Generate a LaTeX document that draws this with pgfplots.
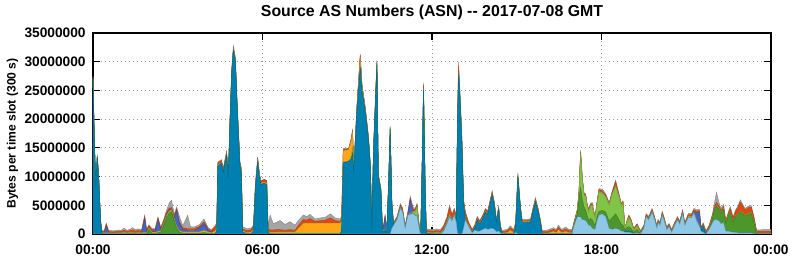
\documentclass[border=0pt]{standalone}
\usepackage{pgfplots}
\pgfplotsset{compat=1.18}
\usepackage{pgfplotstable}
\usepackage{fontspec}
\setmainfont{Liberation Sans}
\definecolor{clb}{RGB}{142,200,230}
\definecolor{cte}{RGB}{0,128,176}
\definecolor{cdg}{RGB}{76,150,44}
\definecolor{clg}{RGB}{128,196,72}
\definecolor{cor}{RGB}{255,166,20}
\definecolor{crb}{RGB}{66,102,196}
\definecolor{crd}{RGB}{224,72,14}
\definecolor{cgy}{RGB}{165,165,165}
\pgfplotstableread{
t lb te dg lg or rb rd gy
0.00 0 27.0 0 0 0 0 0.3 0.2
0.05 0 16.0 0 0 0 0 0.2 0.2
0.10 0 8.0 0 0 0 0 0.2 0.2
0.15 0 13.4 0 0 0 0 0.2 0.2
0.20 0 10.0 0 0 0 0 0.2 0.2
0.27 0 2.0 0 0 0 0 0.2 0.2
0.32 0 0 0 0.05 0.15 0 0.25 0.2
0.40 0 0 0 0.05 0.15 0 0.25 0.2
0.47 0 0 0 0.05 0.15 1.2 0.25 0.25
0.55 0 0 0 0.05 0.15 0 0.25 0.2
0.70 0 0 0 0.05 0.1 0 0.2 0.2
0.90 0 0 0 0.05 0.15 0 0.25 0.25
1.00 0 0 0 0.05 0.15 0 0.25 0.2
1.10 0 0 0 0.05 0.2 0 0.4 0.35
1.20 0 0 0 0.05 0.15 0 0.25 0.2
1.30 0 0 0 0.05 0.2 0 0.3 0.25
1.40 0 0 0 0.05 0.2 0 0.45 0.4
1.50 0 0 0 0.05 0.15 0 0.3 0.25
1.60 0 0 0 0.05 0.2 0 0.35 0.3
1.72 0 0 0 0.05 0.15 0 0.3 0.25
1.83 0 0 0 0.05 0.2 2.4 0.35 0.3
1.90 0 0 0 0.05 0.15 0.1 0.3 0.25
1.98 0 0 0.8 0.05 0.2 0.1 0.25 0.2
2.08 0 0 0.1 0.05 0.2 0.1 0.3 0.25
2.20 0 0 0 0.05 0.2 0.2 0.3 0.25
2.30 0 0 0.2 0.05 0.2 2.0 0.3 0.25
2.40 0 0 0.3 0.05 0.2 0.1 0.3 0.25
2.50 0 0 1.5 0.1 0.2 0.1 0.3 0.3
2.60 0 0 2.8 0.2 0.2 0.2 0.3 0.4
2.70 0 0 3.6 0.2 0.2 0.2 0.3 0.9
2.78 0 0 3.8 0.2 0.2 0.1 0.3 1.3
2.88 0 0 2.3 0.1 0.2 0.1 0.3 0.4
2.96 0 0 1.0 0.1 0.2 2.8 0.3 0.3
3.06 0 0 0.3 0.05 0.2 1.2 0.3 1.0
3.18 0 0 0.1 0.05 0.2 0.4 0.3 0.4
3.35 0 0 0.1 0.05 0.2 0.3 0.3 2.3
3.45 0 0 0.1 0.05 0.2 0.3 0.3 0.3
3.60 0 0 0.1 0.05 0.2 0.3 0.3 0.3
3.75 0 0 0.1 0.05 0.2 0.6 0.3 0.3
3.93 0 0 0.2 0.1 0.3 1.2 0.3 0.5
4.08 0 0 0.1 0.05 0.2 0.2 0.3 0.2
4.20 0 0 0 0.05 0.15 0.1 0.25 0.2
4.32 0 0 0 0.05 0.5 0.1 0.5 0.3
4.38 0 0.5 0 0.05 0.5 0.1 0.5 0.3
4.42 0 11.8 0 0.05 0.2 0 0.3 0.2
4.55 0 12.3 0 0.05 0.1 0 0.3 0.2
4.61 0 10.8 0 0.05 0.1 0 0.3 0.2
4.73 0 13.8 0 0.05 0.1 0 0.3 0.2
4.79 0 9.8 0 0.05 0.1 0 0.3 0.2
4.85 0 19.5 0 0.05 0.1 0 0.3 0.2
4.91 0 28.0 0 0.05 0.1 0 0.3 0.2
4.97 0 32.0 0 0.05 0.1 0 0.3 0.3
5.04 0 30.0 0 0.05 0.1 0 0.3 0.3
5.10 0 22.5 0 0.05 0.1 0 0.3 0.2
5.20 0 12.0 0 0.05 0.1 0 0.3 0.2
5.25 0 10.5 0 0.05 0.1 0 0.3 0.7
5.30 0 0.3 0 0.05 0.2 0 0.3 0.4
5.45 0 0 0 0.05 0.2 0 0.3 0.4
5.60 0 0 0 0.05 0.3 0 0.4 0.3
5.68 0 0.5 0 0.05 0.3 0 0.4 0.3
5.75 0 8.0 0 0.05 0.3 0 0.4 0.2
5.83 0 12.5 0 0.05 0.2 0 0.4 0.2
5.90 0 9.6 0 0.05 0.2 0 0.3 0.1
5.95 0 8.6 0 0.05 0.2 0 0.3 0.1
6.05 0 8.8 0 0.05 0.2 0 0.4 0.1
6.15 0 8.6 0 0.05 0.2 0 0.4 0.1
6.20 0 0.2 0 0.05 0.2 0 0.4 0.4
6.27 0 0 0 0.1 0.2 0 0.4 2.6
6.38 0 0 0 0.1 0.2 0 0.4 1.1
6.50 0 0 0 0.15 0.2 0 0.4 1.3
6.62 0 0 0 0.15 0.2 0 0.4 1.6
6.80 0 0 0 0.15 0.2 0 0.3 1.0
6.97 0 0 0 0.15 0.2 0 0.4 1.4
7.15 0 0 0 0.15 0.2 0 0.3 0.9
7.30 0 0 0 0.15 1.0 0 0.5 0.9
7.45 0 0 0 0.1 1.8 0 0.6 0.8
7.57 0 0 0 0.1 1.8 0 0.5 0.6
7.68 0 0 0 0.1 1.8 0 0.8 0.7
7.86 0 0 0 0.1 1.8 0 0.3 0.4
8.04 0 0 0 0.1 1.8 0 0.4 0.5
8.22 0 0 0 0.1 1.8 0 0.5 0.5
8.40 0 0 0 0.1 1.8 0 0.9 0.7
8.57 0 0 0 0.1 1.8 0 0.4 0.5
8.75 0 0 0 0.1 1.8 0 0.3 0.4
8.80 0 0.5 0 0.1 1.8 0 0.3 0.4
8.86 0 12.4 0 0.1 2.0 0 0.2 0.2
9.05 0 12.6 0 0.1 2.0 0 0.1 0.1
9.14 0 13.0 0 0.5 2.8 0 0.2 0.2
9.19 0 14.0 0 1.0 2.7 0 0.3 0.3
9.23 0 10.6 0 0.1 0.2 0 0.1 0.1
9.34 0 21.0 0 0.2 0.6 0 0.2 0.2
9.46 0 29.0 0 0.3 1.5 0 0.3 0.2
9.52 0 25.0 0 0.2 0.6 0 0.2 0.2
9.64 0 21.2 0 0.1 0.4 0 0.2 0.1
9.75 0 16.5 0 0.1 0.2 0 0.1 0.1
9.82 0 11.5 0 0.1 0.2 0 0.1 0.1
9.87 0 0.5 0 0.1 0.2 0 0.2 0.2
9.93 0 14.5 0 0.1 0.2 0 0.1 0.1
10.05 0 29.5 0 0.1 0.2 0 0.2 0.2
10.10 0 10.0 0 0.1 0.1 0 0.1 0.1
10.19 0 7.6 0 0.1 0.1 0 0.1 0.1
10.25 0 0.3 0 0.05 0.1 0 0.2 0.2
10.30 0 0.5 0 0.05 0.1 1.0 0.2 0.2
10.34 0 0.6 0 0.05 0.1 2.2 0.2 0.2
10.40 0 0.2 0 0.05 0.1 0.1 0.2 0.2
10.46 0 8.0 0 0.05 0.1 0 0.2 0.2
10.52 0 18.2 0 0.05 0.1 0 0.2 0.2
10.58 1.0 4.0 0 0.05 0.1 0 0.2 0.2
10.64 1.5 0 0 0.05 0.1 0 0.2 0.2
10.76 2.5 0 0 0.05 0.1 0 0.2 0.2
10.88 4.5 0 0 0.1 0.1 0 0.3 0.3
10.96 3.8 0 0 0.05 0.1 0 0.3 0.3
11.05 1.0 0 0 0.05 0.1 0 0.2 0.2
11.15 3.3 0 0 0.05 0.1 0 0.3 0.3
11.23 3.4 0 0 0.05 0.1 2.4 0.3 0.3
11.33 3.6 0 0 0.2 0.1 0.1 0.3 0.3
11.41 3.2 0 0 0.7 0.1 0 0.3 0.2
11.47 3.2 0 0 1.5 0.1 0 0.3 0.2
11.55 0.8 0 0 0.2 0.1 0 0.3 0.2
11.60 0 0 0 0.05 0.1 0 0.2 0.2
11.65 0 11.5 0 0.05 0.1 0 0.3 0.2
11.70 0 25.2 0 0.05 0.1 0 0.7 0.3
11.76 0 7.5 0 0.05 0.1 0 0.2 0.2
11.80 0 0.1 0 0.1 0.1 0 0.3 0.3
12.00 0 0 0 0.1 0.1 0 0.3 0.3
12.18 0 0 0 0.15 0.1 0 0.3 0.3
12.30 0 0 0 0.1 0.1 0 0.3 0.3
12.41 0.5 0 0 0.1 0.1 0 0.5 0.3
12.53 1.8 0 0 0.2 0.1 0 0.6 0.3
12.62 3.0 0 0 0.3 0.1 0 1.2 0.4
12.71 2.3 0 0 0.1 0.1 0 0.7 0.3
12.79 3.3 0 0 0.1 0.1 0 0.7 0.3
12.86 2.0 0.5 0 0.05 0.1 0 0.4 0.2
12.90 0.2 18.0 0 0.05 0.1 0 0.6 0.3
12.94 0 28.0 0 0.05 0.1 0 1.2 0.6
13.00 0 22.5 0 0.05 0.1 0 0.8 0.4
13.06 0 15.5 0 0.05 0.1 0 0.8 0.4
13.12 1.0 4.0 0 0.05 0.1 0 0.6 0.3
13.18 2.5 0 0 0.05 0.1 0 1.0 0.3
13.30 1.3 0 0 0.05 0.1 0 0.4 0.2
13.42 0.2 0 0 0.05 0.1 0 0.3 0.2
13.51 0.7 0.2 0 0.05 0.1 0 0.3 0.2
13.60 0.5 1.9 0 0.05 0.1 0 0.3 0.2
13.69 0.5 1.2 0 0.05 0.1 0 0.3 0.2
13.81 0.8 2.0 0 0.05 0.1 0 0.3 0.2
13.89 1.0 2.8 0 0.05 0.1 0 0.3 0.2
13.97 0.8 2.6 0 0.05 0.1 0 0.3 0.2
14.13 1.0 5.8 0 0.05 0.1 0 0.3 0.3
14.21 0.8 4.1 0 0.05 0.1 0 0.3 0.2
14.28 0.4 1.6 0 0.05 0.1 0 0.2 0.2
14.36 0.5 3.8 0 0.05 0.1 0 0.2 0.2
14.42 0.2 0.8 0 0.05 0.1 0 0.2 0.2
14.48 0 0 0 0.05 0.1 0 0.25 0.2
14.66 0 0 0 0.05 0.2 0 0.3 0.25
14.78 0 0 0 0.05 0.6 0 0.4 0.35
14.89 0 0 0 0.05 0.2 0 0.3 0.25
14.96 0.3 1.0 0 0.05 0.2 0 0.3 0.2
15.04 0 9.9 0 0.05 0.1 0 0.3 0.3
15.13 0 4.4 0 0.05 0.1 0 0.2 0.2
15.19 0 2.0 0 0.05 0.1 0 0.2 0.2
15.35 0 2.0 0 0.05 0.1 0 0.2 0.2
15.49 0 2.1 0 0.05 0.1 0 0.2 0.2
15.57 0 3.9 0 0.05 0.1 0 0.2 0.2
15.66 0 5.6 0 0.05 0.1 0 0.3 0.3
15.76 0 3.9 0 0.05 0.1 0 0.2 0.2
15.84 0 1.9 0 0.05 0.1 0 0.2 0.2
15.90 0 0 0 0.05 0.1 0 0.25 0.2
16.10 0 0 0 0.05 0.1 0 0.3 0.25
16.30 0 0 0 0.05 0.4 0 0.35 0.3
16.40 0 0 0 0.05 0.2 0 0.3 0.25
16.48 0 0 0 0.05 0.7 0 0.4 0.4
16.58 0 0 0 0.05 0.2 0 0.3 0.25
16.73 0 0 0 0.05 0.4 0 0.4 0.35
16.85 0 0 0 0.05 0.2 0 0.3 0.25
16.96 0 0 0 0.05 0.2 0 0.3 0.25
17.02 1.3 0 0.1 0.05 0.1 0 0.3 0.2
17.14 3.0 0 0.5 0.3 0.1 0 0.2 0.2
17.20 3.0 0 3.0 0.8 0.1 0 0.2 0.2
17.26 3.0 0 5.0 5.8 0.1 0 0.4 0.3
17.32 2.5 0 3.5 3.5 0.1 0 0.2 0.3
17.38 2.5 0 2.2 2.0 0.1 0 0.2 0.2
17.44 2.3 0 1.8 2.4 0.1 0 0.2 0.2
17.49 2.0 0 1.2 1.7 0.1 0 0.2 0.2
17.55 1.5 0 0.8 1.5 0.1 0 0.2 0.2
17.61 1.5 0 1.2 2.1 0.1 0 0.2 0.2
17.67 1.0 0 1.5 2.5 0.1 0 0.2 0.2
17.77 0.8 0 0.6 1.2 0.1 0 0.2 0.1
17.85 2.5 0 0.6 2.4 0.1 0 0.2 0.2
17.91 3.3 0 0.6 3.4 0.1 0 0.3 0.2
18.03 3.5 0 0.6 3.0 0.1 0 0.3 0.3
18.15 3.0 0 0.8 2.6 0.1 0 0.2 0.3
18.27 1.0 0 1.2 2.8 0.1 0 0.2 0.2
18.38 0.8 0 2.0 4.1 0.1 0 0.3 0.2
18.50 1.0 0 2.5 4.8 0.1 0 0.6 0.4
18.62 0.8 0 1.6 4.0 0.1 0 0.3 0.2
18.70 0.5 0 1.2 3.2 0.1 0 0.2 0.1
18.76 0.5 0 1.0 3.9 0.1 0 0.2 0.1
18.83 0.3 0.2 0.2 0.2 0.1 0 0.1 0.1
18.91 0.3 0.2 0.6 1.0 0.1 0 0.2 0.1
18.97 0.3 0.2 0.8 1.5 0.1 0 0.3 0.1
19.05 0.2 0.2 0.5 1.2 0.1 0 0.2 0.1
19.14 0.1 0 0.2 0.3 0.1 0 0.2 0.1
19.26 0.2 0 0.6 0.6 0.1 0 0.2 0.1
19.38 0 0 0 0.1 0.1 0 0.2 0.2
19.50 1.0 0 0 0.05 0.1 0 0.2 0.2
19.58 3.0 0 0 0.05 0.1 0 0.2 0.2
19.67 2.5 0 0 0.05 0.1 0 0.2 0.2
19.79 3.8 0 0 0.05 0.1 0 0.3 0.2
19.88 2.5 0 0 0.05 0.1 0 0.2 0.2
19.96 1.0 0 0 0.05 0.1 0 0.2 0.2
20.00 2.0 0 0 0.05 0.1 0 0.2 0.2
20.07 1.5 0 0 0.05 0.1 0 0.2 0.2
20.15 3.3 0 0 0.05 0.1 0 0.3 0.2
20.24 2.0 0 0 0.05 0.1 0 0.2 0.2
20.31 0.7 0 0 0.05 0.1 0 0.2 0.2
20.39 1.3 0 0 0.05 0.1 0 0.2 0.2
20.48 0.3 0 0 0.05 0.1 0 0.2 0.2
20.59 1.5 0 0 0.05 0.1 0 0.2 0.2
20.69 2.5 0 0 0.05 0.1 0 0.2 0.2
20.77 1.7 0 0 0.05 0.1 0 0.2 0.2
20.87 3.6 0 0 0.05 0.1 0 0.3 0.2
20.95 1.5 0 0 0.05 0.1 0 0.2 0.2
21.07 2.9 0 0 0.05 0.1 0 0.3 0.2
21.19 2.9 0 0 0.05 0.1 0 0.3 0.2
21.27 3.7 0 0 0.05 0.1 0 0.3 0.3
21.37 2.3 0 0 0.05 0.1 1.2 0.3 0.3
21.47 1.3 0 0 0.05 0.1 2.3 0.3 0.2
21.52 0.5 0 0 0.05 0.1 0.2 0.2 0.2
21.60 0.3 1.1 0 0.05 0.1 0 0.2 0.2
21.70 0 0 0 0.05 0.1 0 0.25 0.2
21.81 0.8 0 0.1 0.05 0.1 0 0.3 0.2
21.93 2.0 0 0.8 0.05 0.1 0 0.3 0.3
22.00 2.5 0 1.8 0.05 0.1 0 0.4 0.6
22.07 2.5 0 2.3 0.05 0.1 0 0.5 1.8
22.16 2.3 0 2.0 0.05 0.1 0 0.4 0.6
22.23 1.8 0 1.8 0.05 0.1 0 0.3 0.4
22.32 2.0 0 2.3 0.05 0.1 0 0.3 0.4
22.40 0.5 0 1.4 0.05 0.1 0 0.2 0.2
22.50 0.5 0 2.8 0.05 0.1 0 0.3 0.2
22.56 0.4 0 3.3 0.05 0.1 0 0.5 0.4
22.66 0.3 0 1.8 0.05 0.1 0 0.5 0.2
22.74 0.3 0 2.7 0.05 0.1 0 0.7 0.3
22.84 0.2 0 3.2 0.05 0.1 0 1.1 0.3
22.91 0.2 0 3.6 0.05 0.1 0 1.6 0.4
23.00 0.2 0 3.4 0.05 0.1 0 1.1 0.3
23.08 0.2 0 2.9 0.05 0.1 0 0.9 0.3
23.19 0.2 0 3.2 0.05 0.1 0 1.0 0.3
23.30 0.2 0 3.4 0.05 0.1 0 0.9 0.3
23.40 0.1 0 1.8 0.05 0.1 0 0.7 0.2
23.49 0 0 0 0.05 0.1 0 0.3 0.25
23.70 0 0 0 0.05 0.1 0 0.3 0.3
24.00 0 0 0 0.05 0.1 0 0.3 0.3
}\data
\begin{document}
\begin{tikzpicture}
\useasboundingbox (-69.75pt,-18.75pt) rectangle (524.25pt,175.5pt);
\begin{axis}[
  at={(0,0)}, anchor=south west,
  scale only axis, width=508.5pt, height=150.75pt,
  xmin=0, xmax=24, ymin=0, ymax=35,
  stack plots=y,
  xtick={0,6,12,18,24},
  xticklabels={00:00,06:00,12:00,18:00,00:00},
  ytick={0,5,10,15,20,25,30,35},
  yticklabels={0,5000000,10000000,15000000,20000000,25000000,30000000,35000000},
  tick align=inside, major tick length=5pt,
  grid=major,
  grid style={gray!80, dash pattern=on 0.75pt off 2.25pt, line width=0.6pt},
  axis line style={line width=0.9pt, black},
  tick style={black, line width=0.8pt},
  /pgf/number format/assume math mode=true,
  ticklabel style={font=\bfseries\fontsize{10.3}{12}\selectfont},
  xticklabel style={yshift=-4.5pt},
  yticklabel style={xshift=-2pt},
  title={Source AS Numbers (ASN) -{}- 2017-07-08 GMT},
  title style={font=\bfseries\fontsize{11.9}{14}\selectfont, yshift=0pt},
  ylabel={Bytes per time slot (300 s)},
  ylabel style={font=\bfseries\fontsize{9.1}{11}\selectfont, yshift=-2pt},
  every axis plot/.append style={no marks, line width=0.3pt},
]
\addplot[fill=clb, draw=clb!75!black] table[x=t,y=lb]{\data} \closedcycle;
\addplot[fill=cte, draw=cte!80!black] table[x=t,y=te]{\data} \closedcycle;
\addplot[fill=cdg, draw=cdg!80!black] table[x=t,y=dg]{\data} \closedcycle;
\addplot[fill=clg, draw=clg!85!black] table[x=t,y=lg]{\data} \closedcycle;
\addplot[fill=cor, draw=cor!85!black] table[x=t,y=or]{\data} \closedcycle;
\addplot[fill=crb, draw=crb!80!black] table[x=t,y=rb]{\data} \closedcycle;
\addplot[fill=crd, draw=crd!85!black] table[x=t,y=rd]{\data} \closedcycle;
\addplot[fill=cgy, draw=cgy!80!black] table[x=t,y=gy]{\data} \closedcycle;
\end{axis}
\end{tikzpicture}
\end{document}
